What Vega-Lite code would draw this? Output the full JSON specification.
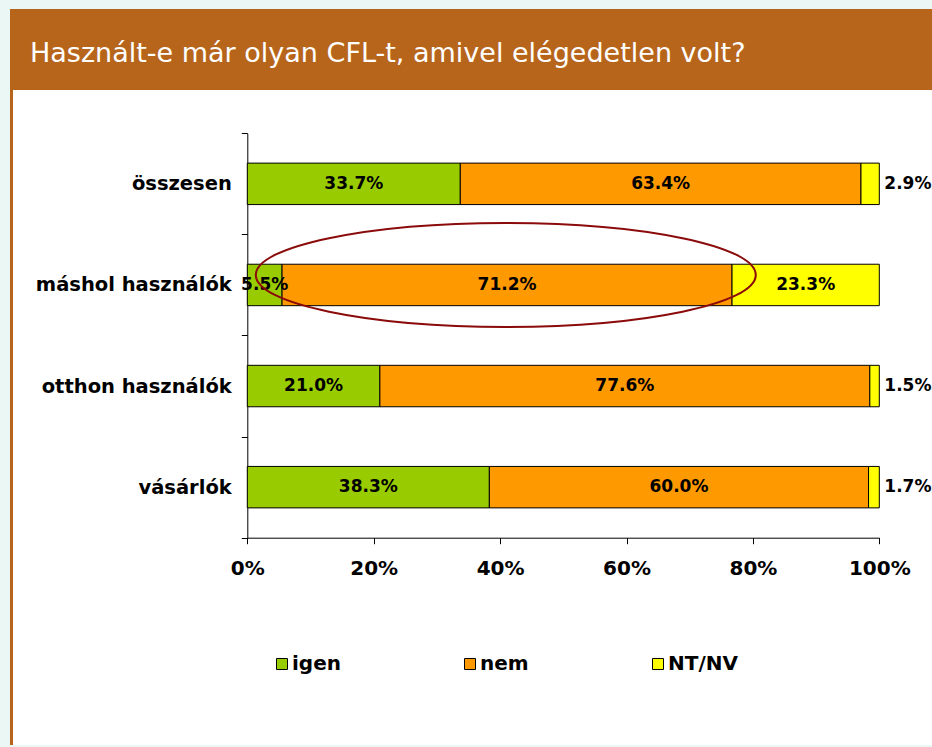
{
  "$schema": "https://vega.github.io/schema/vega-lite/v6.json",
  "background": "#EBF7F5",
  "padding": {"left": 10, "top": 9, "right": 0, "bottom": 2},
  "spacing": 0,
  "bounds": "flush",
  "config": {"font": "DejaVu Sans", "concat": {"spacing": 0}, "view": {"stroke": null}},
  "vconcat": [
    {
      "width": 922,
      "height": 81,
      "view": {"fill": "#B8651C", "stroke": null},
      "title": {"text": "Használt-e már olyan CFL-t, amivel elégedetlen volt?", "anchor": "start", "frame": "group", "offset": -80, "dx": 20, "color": "white", "fontSize": 27, "fontWeight": "normal", "baseline": "alphabetic", "font": "DejaVu Sans"},
      "data": {"values": []},
      "mark": "rect"
    },
    {
      "spacing": 0,
      "bounds": "flush",
      "hconcat": [
        {
          "width": 3,
          "height": 655,
          "view": {"fill": "#B8651C", "stroke": null},
          "data": {"values": []},
          "mark": "rect"
        },
        {
          "width": 919,
          "height": 655,
          "view": {"fill": "white", "stroke": null},
          "data": {"values": [
            {"cat": "összesen", "grp": "igen", "k": 1, "value": 0.337},
            {"cat": "összesen", "grp": "nem", "k": 2, "value": 0.634},
            {"cat": "összesen", "grp": "NT/NV", "k": 3, "value": 0.029},
            {"cat": "máshol használók", "grp": "igen", "k": 1, "value": 0.055},
            {"cat": "máshol használók", "grp": "nem", "k": 2, "value": 0.712},
            {"cat": "máshol használók", "grp": "NT/NV", "k": 3, "value": 0.233},
            {"cat": "otthon használók", "grp": "igen", "k": 1, "value": 0.210},
            {"cat": "otthon használók", "grp": "nem", "k": 2, "value": 0.776},
            {"cat": "otthon használók", "grp": "NT/NV", "k": 3, "value": 0.015},
            {"cat": "vásárlók", "grp": "igen", "k": 1, "value": 0.383},
            {"cat": "vásárlók", "grp": "nem", "k": 2, "value": 0.600},
            {"cat": "vásárlók", "grp": "NT/NV", "k": 3, "value": 0.017}
          ]},
          "encoding": {
            "y": {
              "field": "cat", "type": "nominal", "title": null,
              "sort": ["összesen", "máshol használók", "otthon használók", "vásárlók"],
              "scale": {"range": [43.3, 447.7], "paddingInner": 0, "paddingOuter": 0},
              "axis": {"offset": -234.3, "tickBand": "extent", "tickSize": 6, "tickColor": "black", "domainColor": "black", "labelColor": "black", "labelFontSize": 19.5, "labelFontWeight": "bold", "labelPadding": 10, "labelFont": "DejaVu Sans", "labelLimit": 400, "grid": false}
            }
          },
          "layer": [
            {
              "mark": {"type": "bar", "height": {"band": 0.41}, "stroke": "black", "strokeWidth": 1},
              "encoding": {
                "x": {"field": "value", "type": "quantitative", "stack": "normalize", "title": null,
                  "scale": {"domain": [0, 1], "range": [234.3, 866.3]},
                  "axis": {"offset": -207.3, "values": [0, 0.2, 0.4, 0.6, 0.8, 1], "format": ".0%", "tickSize": 6, "tickColor": "black", "domainColor": "black", "labelColor": "black", "labelFontSize": 20, "labelFontWeight": "bold", "labelPadding": 15, "labelFlush": false, "labelOverlap": false, "labelBound": false, "grid": false, "labelFont": "DejaVu Sans"}},
                "color": {"field": "grp", "type": "nominal", "title": null,
                  "scale": {"domain": ["igen", "nem", "NT/NV"], "range": ["#99CC00", "#FF9900", "#FFFF00"]},
                  "legend": {"orient": "none", "legendX": 262, "legendY": 645, "direction": "horizontal", "symbolType": "square", "symbolSize": 121, "symbolStrokeColor": "black", "symbolStrokeWidth": 1, "symbolOpacity": 1, "labelFontSize": 20, "labelFontWeight": "bold", "labelColor": "black", "labelFont": "DejaVu Sans", "labelOffset": 0, "columnPadding": 119, "padding": 0}},
                "order": {"field": "k", "type": "quantitative"}
              }
            },
            {
              "mark": {"type": "text", "fontSize": 17, "fontWeight": "bold", "color": "black", "font": "DejaVu Sans"},
              "encoding": {
                "x": {"field": "value", "type": "quantitative", "stack": "normalize", "bandPosition": 0.5, "title": null},
                "detail": {"field": "grp"},
                "order": {"field": "k", "type": "quantitative"},
                "text": {"condition": {"test": "datum.value >= 0.05", "field": "value", "type": "quantitative", "format": ".1%"}, "value": ""}
              }
            },
            {
              "mark": {"type": "text", "fontSize": 17, "fontWeight": "bold", "color": "black", "align": "left", "dx": 5, "font": "DejaVu Sans"},
              "encoding": {
                "x": {"field": "value", "type": "quantitative", "stack": "normalize", "title": null},
                "detail": {"field": "grp"},
                "order": {"field": "k", "type": "quantitative"},
                "text": {"condition": {"test": "datum.value < 0.05", "field": "value", "type": "quantitative", "format": ".1%"}, "value": ""}
              }
            },
            {
              "data": {"values": [{"cat": "máshol használók", "cx": 0.409}]},
              "mark": {"type": "point", "shape": "M -1 -0.04 C -1 -0.1549 -0.5523 -0.248 0 -0.248 C 0.5523 -0.248 1 -0.1549 1 -0.04 C 1 0.0749 0.5523 0.168 0 0.168 C -0.5523 0.168 -1 0.0749 -1 -0.04 Z", "size": 250000, "filled": false, "stroke": "#8B0A0A", "strokeWidth": 2, "opacity": 1},
              "encoding": {
                "x": {"field": "cx", "type": "quantitative", "title": null}
              }
            }
          ]
        }
      ]
    }
  ]
}
